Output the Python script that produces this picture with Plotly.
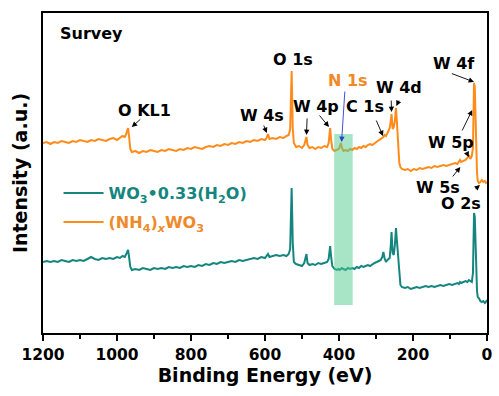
import plotly.graph_objects as go

# Survey XPS spectra: binding energy (eV) and intensity (a.u., stacked)
binding_energy = [
    1200, 1190, 1180, 1170, 1160, 1150, 1140, 1130, 1120, 1110,
    1100, 1090, 1080, 1070, 1060, 1050, 1040, 1030, 1020, 1010,
    1000, 992, 985, 979, 975, 972, 970, 967, 964, 960,
    950, 940, 930, 920, 910, 900, 890, 880, 870, 860,
    850, 840, 830, 820, 810, 800, 790, 780, 770, 760,
    750, 740, 730, 720, 710, 700, 690, 680, 670, 660,
    650, 640, 630, 620, 610, 600, 596, 592, 588, 580,
    570, 560, 550, 542, 536, 532, 528, 525, 522, 516,
    508, 500, 494, 491, 488, 485, 480, 472, 464, 456,
    448, 440, 432, 428, 426, 424, 421, 418, 412, 406,
    401, 398, 395, 392, 388, 382, 376, 370, 364, 358,
    352, 346, 340, 334, 328, 322, 316, 310, 304, 298,
    292, 287, 283, 280, 277, 273, 269, 266, 263, 260,
    258, 255, 252, 249, 246, 243, 240, 237, 234, 230,
    222, 214, 206, 198, 190, 182, 174, 166, 158, 150,
    142, 134, 126, 118, 110, 102, 94, 86, 80, 76,
    73, 70, 64, 58, 53, 49, 45, 41, 38, 36,
    35, 33, 31, 29, 27, 25, 22, 18, 14, 10, 6, 3, 0,
]

intensity_nh4_wo3 = [
    190, 191, 189, 191, 190, 192, 191, 190, 192, 191,
    193, 192, 191, 193, 192, 194, 193, 192, 194, 195,
    193, 195, 197, 196, 199, 203, 205, 195, 184, 181,
    182, 180, 182, 181, 183, 182, 181, 183, 182, 184,
    183, 182, 184, 183, 185, 184, 186, 185, 184, 186,
    187, 186, 188, 187, 189, 188, 190, 189, 191, 190,
    192, 191, 193, 192, 194, 193, 195, 199, 194, 195,
    194, 196, 195, 197, 198, 204, 262, 205, 190, 186,
    187, 185, 188, 192, 196, 188, 185, 186, 184, 186,
    185, 187, 186, 190, 198, 205, 192, 184, 182, 183,
    184, 186, 190, 185, 182, 183, 182, 184, 183, 185,
    184, 186, 185, 187, 186, 188, 189, 188, 190, 191,
    193, 194, 195, 196, 198, 197, 200, 203, 205, 212,
    219, 204, 206, 212, 225, 208, 185, 170, 166, 164,
    163, 164, 162, 164, 163, 165, 164, 165, 166, 165,
    167, 166, 167, 168, 167, 168, 169, 170, 169, 171,
    173, 171, 172, 173, 175, 178, 174, 177, 185, 230,
    250, 246, 215, 180, 160, 152, 150, 151, 153, 151, 152, 150, 151,
]

intensity_wo3_hydrate = [
    71, 72, 71, 72, 71, 73, 72, 71, 73, 72,
    73, 72, 74, 76, 74, 73, 75, 74, 75, 74,
    76, 75, 77, 76, 79, 81, 83, 75, 66, 63,
    64, 63, 65, 64, 63, 65, 64, 65, 64, 66,
    65, 66, 65, 67, 66, 67, 66, 68, 67, 69,
    68, 70, 69, 71, 70, 71, 72, 71, 73, 72,
    73, 74, 75, 74, 76, 75, 77, 79, 76, 77,
    78, 77, 78, 77, 79, 84, 145, 90, 71, 69,
    68, 67, 70, 74, 79, 70, 68, 69, 68, 70,
    69, 70, 71, 74, 80, 87, 75, 67, 64, 63,
    64, 63, 64, 65, 64, 63, 65, 64, 65, 64,
    66, 65, 67, 66, 67, 68, 67, 69, 70, 71,
    72, 73, 76, 81, 75, 71, 73, 74, 75, 88,
    101, 80, 78, 88, 105, 90, 74, 60, 48, 46,
    45, 46, 44, 45, 46, 45, 46, 47, 46, 47,
    46, 47, 48, 47, 48, 49, 48, 49, 50, 49,
    51, 50, 51, 52, 51, 53, 52, 51, 60, 100,
    120, 116, 90, 60, 42, 36, 35, 32, 31, 32, 30, 31, 33,
]

x_ticks = [1200, 1000, 800, 600, 400, 200, 0]

ORANGE = "#ff8c1a"
TEAL = "#14857f"
FONT = "DejaVu Sans"

fig = go.Figure()
fig.add_trace(go.Scatter(
    x=binding_energy, y=intensity_wo3_hydrate, mode="lines",
    line=dict(color=TEAL, width=2),
    name=f'<span style="color:{TEAL}">WO<sub>3</sub>•0.33(H<sub>2</sub>O)</span>',
    legendgroup="a", legendrank=1,
))
fig.add_trace(go.Scatter(
    x=binding_energy, y=intensity_nh4_wo3, mode="lines",
    line=dict(color=ORANGE, width=2),
    name='<span style="color:#ee8a2a">(NH<sub>4</sub>)<sub><i>x</i></sub>WO<sub>3</sub></span>',
    legendgroup="b", legendrank=2,
))

# N 1s window
fig.add_shape(type="rect", xref="x", yref="y", x0=413, x1=363, y0=28, y1=199,
              fillcolor="#52cc90", opacity=0.5, line=dict(width=0), layer="above")

# peak labels: (text, x, y, colour, size)
labels = [
    ("Survey", 1069, 300, "black", 16),
    ("O KL1", 925, 223, "black", 16),
    ("W 4s", 608, 218, "black", 16),
    ("O 1s", 523, 274, "black", 16),
    ("N 1s", 376, 253, "#ef8a26", 16),
    ("W 4p", 461, 227, "black", 16),
    ("C 1s", 331, 227, "black", 16),
    ("W 4d", 237, 246, "black", 16),
    ("W 4f", 88, 270, "black", 16),
    ("W 5p", 96, 191, "black", 16),
    ("W 5s", 133, 146, "black", 16),
    ("O 2s", 69, 130, "black", 16),
]
for text, lx, ly, col, size in labels:
    fig.add_annotation(x=lx, y=ly, xref="x", yref="y", text=text, showarrow=False,
                       font=dict(family=FONT, size=size, color=col, weight="bold"))

# pointer arrows: (tail x, tail y, head x, head y, colour)
arrows = [
    (933, 215, 960, 206, "black"),
    (605, 209, 595, 200, "black"),
    (486, 216, 488, 198, "black"),
    (456, 219, 427, 206, "black"),
    (384, 243, 393, 191, "#2a3fd0"),
    (301, 214, 281, 197, "black"),
    (259, 234, 258, 221, "black"),
    (236, 234, 245, 227, "black"),
    (99, 260, 35, 251, "black"),
    (69, 201, 40, 223, "black"),
    (56, 181, 49, 176, "black"),
    (96, 155, 72, 166, "black"),
    (35, 143, 19, 148, "black"),
]
for tx, ty, hx, hy, col in arrows:
    fig.add_annotation(x=hx, y=hy, ax=tx, ay=ty, xref="x", yref="y", axref="x", ayref="y",
                       text="", showarrow=True, arrowhead=2, arrowsize=1.2, arrowwidth=0.9,
                       arrowcolor=col, standoff=0, startstandoff=0)

axis_common = dict(showline=True, linecolor="black", linewidth=2, mirror=True,
                   showgrid=False, zeroline=False)

fig.update_layout(
    width=499, height=396,
    margin=dict(l=43, r=6, t=13, b=63),
    paper_bgcolor="white", plot_bgcolor="white",
    font=dict(family=FONT, color="black"),
    showlegend=True,
    legend=dict(x=0.035, y=0.49, xanchor="left", yanchor="top",
                bgcolor="rgba(0,0,0,0)", itemwidth=40,
                traceorder="grouped", tracegroupgap=5,
                font=dict(family=FONT, size=16, weight="bold")),
    xaxis=dict(
        range=[1200, 0], tickvals=x_ticks, ticks="outside", ticklen=6, tickwidth=2,
        tickcolor="black",
        minor=dict(dtick=100, ticks="outside", ticklen=4, tickwidth=2, tickcolor="black"),
        tickfont=dict(family=FONT, size=15.5, weight="bold"),
        title=dict(text="Binding Energy (eV)", standoff=6,
                   font=dict(family=FONT, size=19, weight="bold")),
        **axis_common,
    ),
    yaxis=dict(
        range=[0, 320], showticklabels=False, ticks="",
        title=dict(text="Intensity (a.u.)", standoff=8,
                   font=dict(family=FONT, size=19, weight="bold")),
        **axis_common,
    ),
)

fig.write_html("out.html")
